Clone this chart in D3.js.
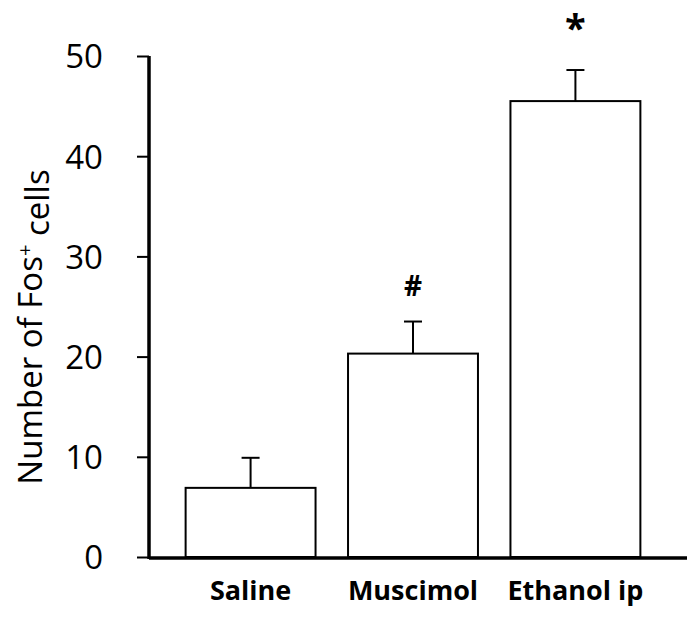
<!DOCTYPE html>
<html>
<head>
<meta charset="utf-8">
<script src="https://cdn.jsdelivr.net/npm/d3@7"></script>
<style>
  body { margin: 0; background: #fff; }
  text { font-family: "Open Sans", "Noto Sans", sans-serif; }
</style>
</head>
<body>
<div id="chart"></div>
<script>
// data
const groups = ["Saline", "Muscimol", "Ethanol ip"];
const means = [6.9, 20.3, 45.5];
const sems = [3.0, 3.2, 3.1];
const marks = ["", "#", "*"];
const yTicks = [0, 10, 20, 30, 40, 50];

const svgWidth = 697;
const svgHeight = 617;

const svg = d3.select("#chart")
  .append("svg")
  .attr("width", svgWidth)
  .attr("height", svgHeight);

// scales
const xScale = d3.scaleBand()
  .domain(groups)
  .range([171, 655])
  .paddingInner(0.2)
  .paddingOuter(0.09);

const yScale = d3.scaleLinear()
  .domain([0, 50])
  .range([557, 56]);

// y axis
const leftAxis = d3.axisLeft(yScale)
  .tickValues(yTicks)
  .tickSize(12)
  .tickPadding(34)
  .tickSizeOuter(0);

const yAxis = svg.append("g")
  .attr("transform", "translate(149,0)")
  .call(leftAxis);
yAxis.select(".domain").attr("stroke-width", 3.5).attr("d", `M0,${yScale(50)}V${yScale(0) + 2}`);
yAxis.selectAll(".tick line").attr("stroke-width", 2);
yAxis.selectAll(".tick text")
  .attr("fill", "#000")
  .style("font-size", "33px")
  .attr("dy", "0.36em");

// x baseline
svg.append("line")
  .attr("x1", 149)
  .attr("x2", 687)
  .attr("y1", yScale(0) + 1)
  .attr("y2", yScale(0) + 1)
  .attr("stroke", "#000")
  .attr("stroke-width", 3.5);

// bars
svg.selectAll(".bar")
  .data(groups)
  .enter()
  .append("rect")
  .attr("class", "bar")
  .attr("x", d => xScale(d))
  .attr("width", xScale.bandwidth())
  .attr("y", (d, i) => yScale(means[i]))
  .attr("height", (d, i) => yScale(0) - yScale(means[i]))
  .attr("fill", "#fff")
  .attr("stroke", "#000")
  .attr("stroke-width", 2);

// error bars (upper only)
const cx = d => xScale(d) + xScale.bandwidth() / 2;
svg.selectAll(".err")
  .data(groups)
  .enter()
  .append("line")
  .attr("x1", cx)
  .attr("x2", cx)
  .attr("y1", (d, i) => yScale(means[i]))
  .attr("y2", (d, i) => yScale(means[i] + sems[i]))
  .attr("stroke", "#000")
  .attr("stroke-width", 2);

svg.selectAll(".cap")
  .data(groups)
  .enter()
  .append("line")
  .attr("x1", d => cx(d) - 9)
  .attr("x2", d => cx(d) + 9)
  .attr("y1", (d, i) => yScale(means[i] + sems[i]))
  .attr("y2", (d, i) => yScale(means[i] + sems[i]))
  .attr("stroke", "#000")
  .attr("stroke-width", 2);

// significance marks
svg.selectAll(".mark")
  .data(groups)
  .enter()
  .append("text")
  .attr("x", cx)
  .attr("y", (d, i) => yScale(means[i] + sems[i]) - (marks[i] === "*" ? 28 : 26))
  .attr("text-anchor", "middle")
  .style("font-weight", "bold")
  .style("font-size", (d, i) => marks[i] === "*" ? "38px" : "28px")
  .text((d, i) => marks[i]);

// category labels
svg.selectAll(".cat")
  .data(groups)
  .enter()
  .append("text")
  .attr("x", cx)
  .attr("y", 600)
  .attr("text-anchor", "middle")
  .style("font-size", "27px")
  .style("font-weight", "bold")
  .text(d => d);

// y label
const ylab = svg.append("text")
  .attr("transform", "translate(42,327) rotate(-90)")
  .attr("text-anchor", "middle")
  .style("font-size", "33px");
ylab.append("tspan").text("Number of Fos");
ylab.append("tspan").attr("dy", "-0.5em").style("font-size", "20px").text("+");
ylab.append("tspan").attr("dy", "0.5em").text(" cells");
</script>
</body>
</html>
